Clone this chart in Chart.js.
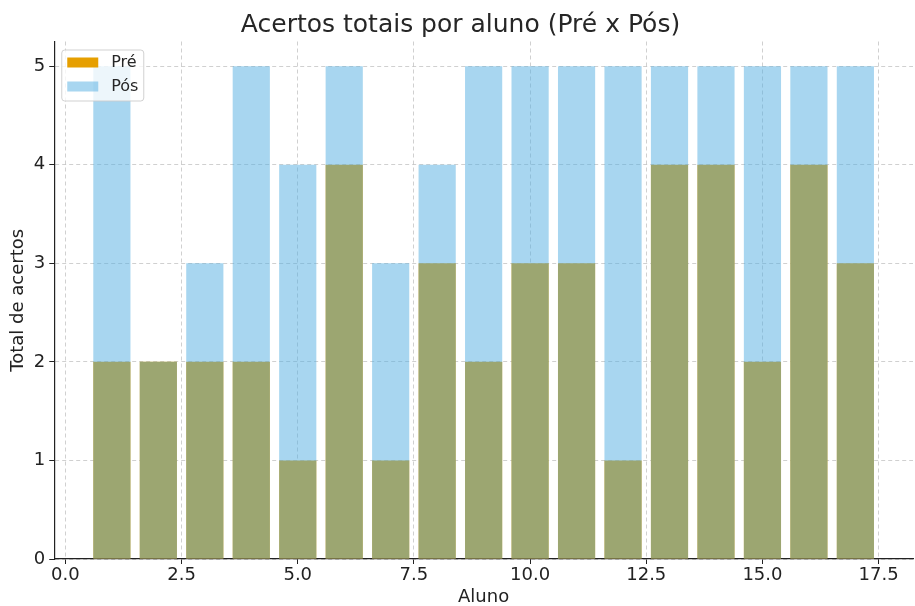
<!DOCTYPE html>
<html>
<head>
<meta charset="utf-8">
<script src="https://cdn.jsdelivr.net/npm/chart.js@4.4.1/dist/chart.umd.min.js"></script>
<style>
  html, body { margin: 0; padding: 0; background: #fff; }
  #wrap { width: 915px; height: 606px; }
</style>
</head>
<body>
<div id="wrap"><canvas id="acertos" width="915" height="606"></canvas></div>
<script>
const alunos = [1, 2, 3, 4, 5, 6, 7, 8, 9, 10, 11, 12, 13, 14, 15, 16, 17];
const pre = [2, 2, 2, 2, 1, 4, 1, 3, 2, 3, 3, 1, 4, 4, 2, 4, 3];
const pos = [5, 2, 3, 5, 4, 5, 3, 4, 5, 5, 5, 5, 5, 5, 5, 5, 5];
const xTicks = [0, 2.5, 5, 7.5, 10, 12.5, 15, 17.5];
const yTicks = [0, 1, 2, 3, 4, 5];

const corPre = '#E69F00';
const corPos = 'rgba(81, 173, 225, 0.5)';
const fonte = 'DejaVu Sans';

// legenda desenhada dentro da área do gráfico (canto superior esquerdo)
const legendaInterna = {
    id: 'legendaInterna',
    afterDraw(chart) {
        const c = chart.ctx;
        const a = chart.chartArea;
        const x = a.left + 7, y = a.top + 8, w = 82, h = 51;
        c.save();
        c.fillStyle = 'rgba(255,255,255,0.8)';
        c.strokeStyle = 'rgba(204,204,204,0.9)';
        c.lineWidth = 1;
        c.beginPath();
        c.roundRect(x + 0.5, y + 0.5, w, h, 3);
        c.fill();
        c.stroke();
        const itens = [['Pré', corPre], ['Pós', corPos]];
        c.font = '16px "' + fonte + '"';
        c.textBaseline = 'middle';
        itens.forEach((it, i) => {
            const yy = y + 13 + i * 24;
            c.fillStyle = it[1];
            c.fillRect(x + 6, yy - 5, 31, 10);
            c.fillStyle = '#262626';
            c.fillText(it[0], x + 50, yy);
        });
        c.restore();
    }
};

const grade = {
    display: true,
    color: 'rgba(176,176,176,0.6)',
    lineWidth: 1,
    tickColor: '#222',
    tickLength: 5,
    drawTicks: true
};

new Chart(document.getElementById('acertos').getContext('2d'), {
    type: 'bar',
    data: {
        datasets: [
            {
                label: 'Pré',
                data: alunos.map((a, i) => ({ x: a, y: pre[i] })),
                backgroundColor: corPre,
                borderWidth: 0,
                grouped: false,
                order: 2
            },
            {
                label: 'Pós',
                data: alunos.map((a, i) => ({ x: a, y: pos[i] })),
                backgroundColor: corPos,
                borderWidth: 0,
                grouped: false,
                order: 1
            }
        ]
    },
    options: {
        responsive: false,
        animation: false,
        categoryPercentage: 1,
        barPercentage: 0.8,
        layout: { padding: { left: 8, right: 2, top: 0, bottom: 0 } },
        scales: {
            x: {
                type: 'linear',
                min: -0.24,
                max: 18.24,
                offset: false,
                z: 1,
                grid: Object.assign({}, grade, { offset: false }),
                border: { display: true, color: '#222', width: 1.2, dash: [4, 3] },
                afterBuildTicks: s => { s.ticks = xTicks.map(v => ({ value: v })); },
                ticks: {
                    color: '#222',
                    font: { family: fonte, size: 18, lineHeight: 1.0 },
                    padding: 2,
                    maxRotation: 0,
                    callback: v => Number(v).toFixed(1)
                },
                title: {
                    display: true,
                    text: 'Aluno',
                    color: '#222',
                    font: { family: fonte, size: 18, lineHeight: 1.0 },
                    padding: { top: 2, bottom: 0 }
                }
            },
            y: {
                min: 0,
                max: 5.25,
                z: 1,
                grid: grade,
                border: { display: true, color: '#222', width: 1.2, dash: [4, 3] },
                afterBuildTicks: s => { s.ticks = yTicks.map(v => ({ value: v })); },
                ticks: {
                    color: '#222',
                    font: { family: fonte, size: 18 },
                    padding: 4
                },
                title: {
                    display: true,
                    text: 'Total de acertos',
                    color: '#222',
                    font: { family: fonte, size: 18, lineHeight: 1.1 },
                    padding: { top: 0, bottom: 2 }
                }
            }
        },
        plugins: {
            legend: { display: false },
            tooltip: { enabled: false },
            title: {
                display: true,
                text: 'Acertos totais por aluno (Pré x Pós)',
                color: '#262626',
                font: { family: fonte, size: 25, weight: 'normal', lineHeight: 1.1 },
                padding: { top: 12, bottom: 2 }
            }
        }
    },
    plugins: [legendaInterna]
});
</script>
</body>
</html>
